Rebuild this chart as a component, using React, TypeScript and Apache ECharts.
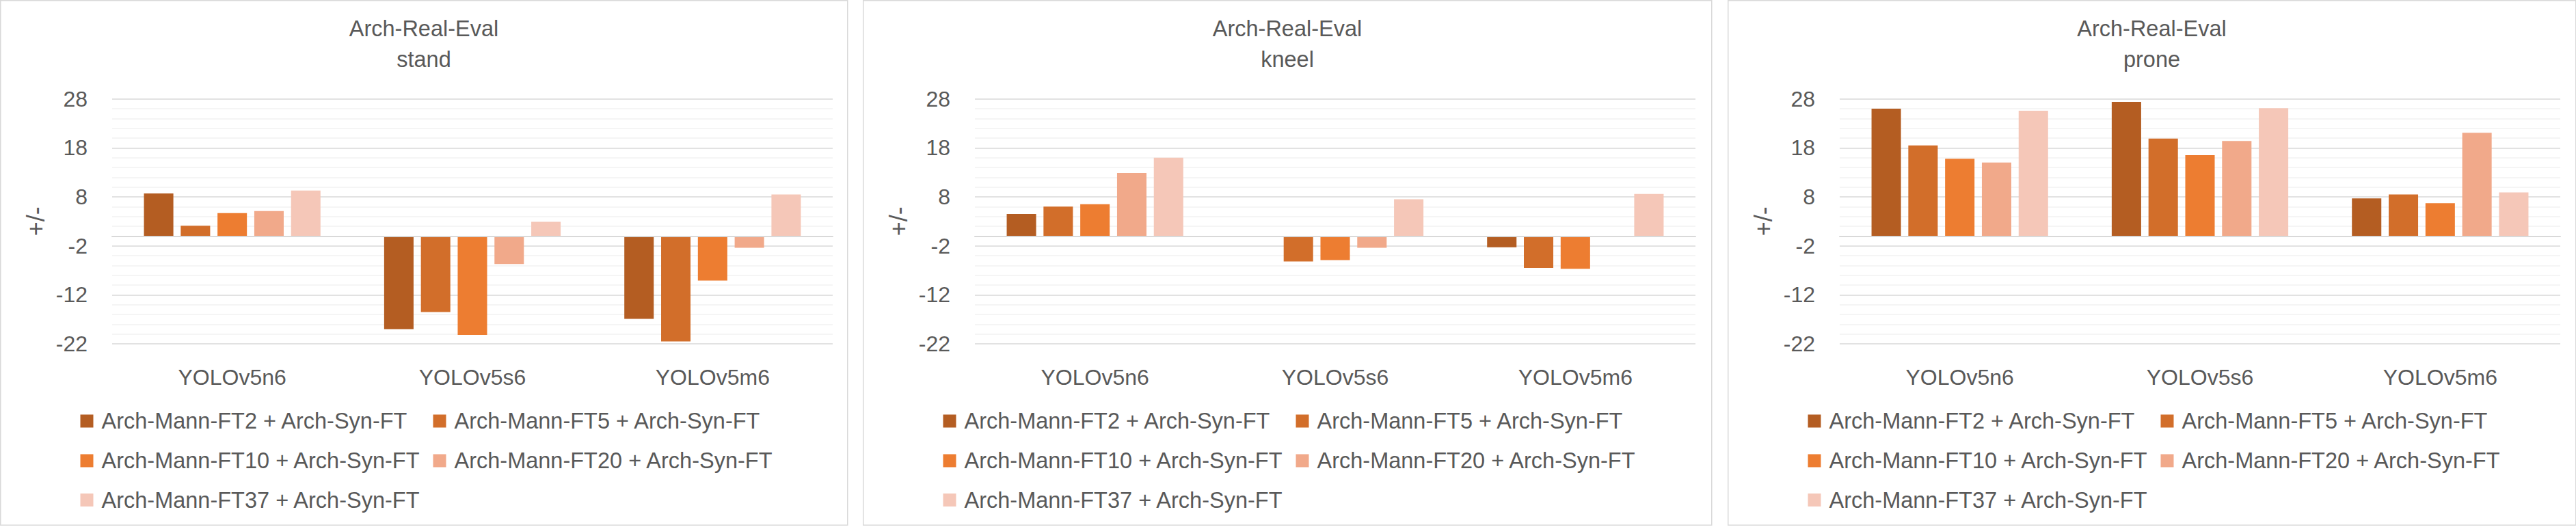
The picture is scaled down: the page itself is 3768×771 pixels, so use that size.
import React, { useEffect, useRef } from 'react';
import * as echarts from 'echarts';

// ---------- data ----------
const categories = ['YOLOv5n6', 'YOLOv5s6', 'YOLOv5m6'];
const seriesNames = [
  'Arch-Mann-FT2 + Arch-Syn-FT',
  'Arch-Mann-FT5 + Arch-Syn-FT',
  'Arch-Mann-FT10 + Arch-Syn-FT',
  'Arch-Mann-FT20 + Arch-Syn-FT',
  'Arch-Mann-FT37 + Arch-Syn-FT',
];
const panelTitles = ['Arch-Real-Eval\nstand', 'Arch-Real-Eval\nkneel', 'Arch-Real-Eval\nprone'];
const yTickLabels = ['28', '18', '8', '-2', '-12', '-22'];
const yMin = -22;
const yMax = 28;
const yStep = 2;
const yAxisName = '+/-';

const standFT2 = [8.7, -19.0, -16.9];
const standFT5 = [2.1, -15.5, -21.5];
const standFT10 = [4.7, -20.2, -9.1];
const standFT20 = [5.1, -5.7, -2.4];
const standFT37 = [9.3, 2.9, 8.5];

const kneelFT2 = [4.5, 0, -2.3];
const kneelFT5 = [6.0, -5.2, -6.5];
const kneelFT10 = [6.5, -4.9, -6.7];
const kneelFT20 = [12.9, -2.4, 0];
const kneelFT37 = [16.0, 7.5, 8.6];

const proneFT2 = [26.0, 27.4, 7.7];
const proneFT5 = [18.5, 19.9, 8.5];
const proneFT10 = [15.8, 16.5, 6.7];
const proneFT20 = [15.0, 19.4, 21.1];
const proneFT37 = [25.6, 26.1, 8.9];

const panelData = [
  [standFT2, standFT5, standFT10, standFT20, standFT37],
  [kneelFT2, kneelFT5, kneelFT10, kneelFT20, kneelFT37],
  [proneFT2, proneFT5, proneFT10, proneFT20, proneFT37],
];

// ---------- style ----------
const FONT = "'Liberation Sans', Arial, sans-serif";
const TEXT = '#595959';
const COLORS = ['#B45D22', '#D26E2A', '#ED7D31', '#F1A98A', '#F5C7B8'];
const MAJOR = '#D9D9D9';
const MINOR = '#F2F2F2';
const panelLefts = [0, 1262, 2527];
const panelWidths = [1240, 1242, 1241];
const legendCols = [117.5, 633.5];
const legendRows = [616, 674, 731.5];

function buildOption() {
  const grid: any[] = [];
  const xAxis: any[] = [];
  const yAxis: any[] = [];
  const series: any[] = [];
  const title: any[] = [];
  const legend: any[] = [];
  const graphic: any[] = [];

  panelTitles.forEach((t, i) => {
    const L = panelLefts[i];
    const W = panelWidths[i];
    graphic.push({
      type: 'rect',
      shape: { x: L + 0.75, y: 0.75, width: W - 1, height: 767.5 },
      style: { fill: 'none', stroke: MAJOR, lineWidth: 1.5 },
      silent: true,
      z: -1,
    });
    title.push({
      text: t,
      left: L + W / 2,
      top: 19,
      textAlign: 'center',
      padding: 0,
      textStyle: { fontSize: 32.5, fontWeight: 'normal', color: TEXT, fontFamily: FONT, lineHeight: 45 },
    });
    grid.push({ left: L + 164, top: 144.7, width: 1054, height: 358.3 });
    xAxis.push({
      type: 'category',
      gridIndex: i,
      data: categories,
      position: 'bottom',
      axisLine: { show: false, onZero: false },
      axisTick: { show: false },
      splitLine: { show: false },
      axisLabel: { interval: 0, margin: 33, fontSize: 32, color: TEXT, fontFamily: FONT },
    });
    xAxis.push({
      type: 'category',
      gridIndex: i,
      data: categories,
      position: 'bottom',
      z: 3,
      axisLine: { show: true, onZero: true, lineStyle: { color: MAJOR, width: 2 } },
      axisTick: { show: false },
      splitLine: { show: false },
      axisLabel: { show: false },
    });
    yAxis.push({
      type: 'value',
      gridIndex: i,
      min: yMin,
      max: yMax,
      interval: yStep,
      name: yAxisName,
      nameLocation: 'middle',
      nameGap: 94,
      nameRotate: 90,
      nameTextStyle: { fontSize: 36, color: TEXT, fontFamily: FONT },
      axisLine: { show: false },
      axisTick: { show: false },
      axisLabel: {
        fontSize: 32,
        color: TEXT,
        fontFamily: FONT,
        margin: 36,
        formatter: (v: number) => (yTickLabels.includes(String(v)) ? String(v) : ''),
      },
      splitLine: { show: true, lineStyle: { color: [MAJOR, MINOR, MINOR, MINOR, MINOR], width: 1.5 } },
    });
    panelData[i].forEach((vals, k) => {
      series.push({
        type: 'bar',
        name: seriesNames[k],
        xAxisIndex: 2 * i,
        yAxisIndex: i,
        data: vals,
        itemStyle: { color: COLORS[k] },
        barGap: '25%',
        barCategoryGap: '26.5%',
      });
      legend.push({
        left: L + legendCols[k % 2],
        top: legendRows[Math.floor(k / 2)] - 20,
        data: [seriesNames[k]],
        icon: 'rect',
        itemWidth: 19,
        itemHeight: 19,
        padding: 0,
        selectedMode: false,
        textStyle: { fontSize: 32.5, color: TEXT, fontFamily: FONT, lineHeight: 40, padding: [0, 0, 0, 7] },
      });
    });
  });

  return {
    animation: false,
    backgroundColor: '#ffffff',
    title,
    legend,
    grid,
    xAxis,
    yAxis,
    series,
    graphic,
  };
}

export default function App() {
  const ref = useRef<HTMLDivElement>(null);
  useEffect(() => {
    document.body.style.margin = '0';
    const chart = echarts.init(ref.current as HTMLDivElement, null, { renderer: 'svg' });
    chart.setOption(buildOption());
    return () => chart.dispose();
  }, []);
  return <div ref={ref} style={{ width: 3768, height: 771 }} />;
}
